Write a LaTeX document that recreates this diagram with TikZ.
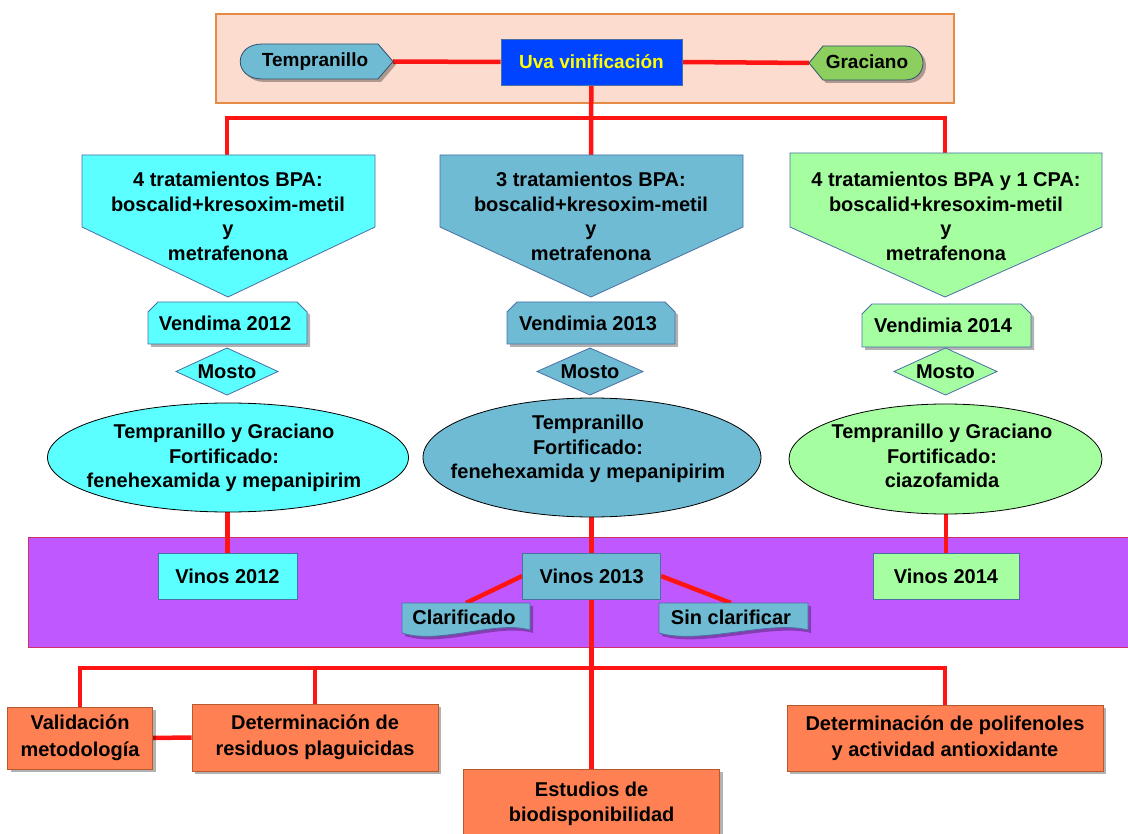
\documentclass[tikz,border=0pt]{standalone}
\usepackage{fontspec}
\setmainfont{Liberation Sans}
\usetikzlibrary{shadows}
\definecolor{peach}{HTML}{FBDCCE}
\definecolor{peachedge}{HTML}{E58B45}
\definecolor{purplefill}{HTML}{C058FF}
\definecolor{purpleedge}{HTML}{D0306A}
\definecolor{orangef}{HTML}{FF8052}
\definecolor{orangeedge}{HTML}{B65A2E}
\definecolor{cyanf}{HTML}{5CFFFF}
\definecolor{midblue}{HTML}{6FBBD3}
\definecolor{lgreen}{HTML}{A5FFA0}
\definecolor{gracgreen}{HTML}{8CCF5E}
\definecolor{uvablue}{HTML}{0044FF}
\definecolor{edgeblue}{HTML}{4A6FA5}
\definecolor{darkedge}{HTML}{30506E}
\definecolor{linered}{HTML}{FF1414}
\definecolor{uvatext}{HTML}{FFFF00}
\pgfdeclarelayer{bg}
\pgfdeclarelayer{lines}
\pgfsetlayers{bg,lines,main}
\begin{document}
\begin{tikzpicture}[x=1pt,y=-1pt,
  txt/.style={font=\fontsize{20}{24.5}\selectfont\bfseries, align=center, inner sep=0pt, text=black},
  toptxt/.style={txt, font=\fontsize{19}{23}\selectfont\bfseries},
  otxt/.style={txt, font=\fontsize{20}{26.5}\selectfont\bfseries},
  shp/.style={draw=edgeblue, line width=0.8pt},
  shad/.style={drop shadow={shadow xshift=3pt, shadow yshift=-3pt, fill=black, opacity=0.3}},
  conn/.style={draw=linered, line width=4.5pt},
  obox/.style={otxt, draw=orangeedge, line width=0.8pt, fill=orangef, shad},
  vbox/.style={txt, shp, minimum height=46pt}
]
\useasboundingbox (0,0) rectangle (1128,834);
\begin{pgfonlayer}{bg}
\fill[white] (0,0) rectangle (1128,834);
\path[fill=peach, draw=peachedge, line width=1.5pt] (216,14) rectangle (954,103);
\path[fill=purplefill, draw=purpleedge, line width=1pt] (28,537) rectangle (1135,647);
\end{pgfonlayer}

% top row
\path[shp, draw=darkedge, fill=midblue, shad] (262,44) -- (378,44) -- (393,61.5) -- (378,79) -- (262,79) .. controls (233,79) and (233,44) .. (262,44) -- cycle;
\node[toptxt] (tempr) at (315,61.5) {Tempranillo};
\coordinate (temprR) at (393,61.5);
\node[toptxt, text=uvatext, fill=uvablue, draw=edgeblue, line width=0.8pt, minimum width=181pt, minimum height=46pt] (uva) at (591.5,62) {Uva vinificación};
\path[shp, draw=darkedge, fill=gracgreen, shad] (809,63) -- (823,46) -- (905,46) .. controls (929,46) and (929,80) .. (905,80) -- (823,80) -- cycle;
\node[toptxt] (grac) at (867,62) {Graciano};
\coordinate (gracL) at (809,63);

% bus
\coordinate (busT1) at (227,118);
\coordinate (busTM) at (591,118);
\coordinate (busT3) at (945,118);

% pentagons
\path[shp, fill=cyanf] (82,155) -- (375,155) -- (375,227) -- (228,297) -- (82,227) -- cycle;
\node[txt] (pent1) at (228,216.5) {4 tratamientos BPA:\\boscalid+kresoxim-metil\\y\\metrafenona};
\coordinate (p1top) at (227,155);
\path[shp, fill=midblue] (440,155) -- (743,155) -- (743,227) -- (591,297) -- (440,227) -- cycle;
\node[txt] (pent2) at (591,216.5) {3 tratamientos BPA:\\boscalid+kresoxim-metil\\y\\metrafenona};
\coordinate (p2top) at (591,155);
\path[shp, fill=lgreen] (790,153) -- (1102,153) -- (1102,227) -- (945,297) -- (790,227) -- cycle;
\node[txt] (pent3) at (946,216.5) {4 tratamientos BPA y 1 CPA:\\boscalid+kresoxim-metil\\y\\metrafenona};
\coordinate (p3top) at (945,153);

% vendimia
\path[shp, fill=cyanf, shad] (158,302) -- (297,302) -- (307,312) -- (307,344) -- (148,344) -- (148,312) -- cycle;
\node[txt] (ven1) at (225,323) {Vendima 2012};
\path[shp, fill=midblue, shad] (517,302) -- (665,302) -- (675,312) -- (675,344) -- (507,344) -- (507,312) -- cycle;
\node[txt] (ven2) at (588,323) {Vendimia 2013};
\path[shp, fill=lgreen, shad] (872,304) -- (1021,304) -- (1031,314) -- (1031,347) -- (862,347) -- (862,314) -- cycle;
\node[txt] (ven3) at (943,325) {Vendimia 2014};

% mosto
\path[shp, fill=cyanf] (176,371.5) -- (227,348) -- (278,371.5) -- (227,395) -- cycle;
\node[txt] (mos1) at (227,372) {Mosto};
\path[shp, fill=midblue] (537,371.5) -- (590,348) -- (643,371.5) -- (590,395) -- cycle;
\node[txt] (mos2) at (590,372) {Mosto};
\path[shp, fill=lgreen] (894,371.5) -- (945.5,348) -- (997,371.5) -- (945.5,395) -- cycle;
\node[txt] (mos3) at (945.5,372) {Mosto};

% ellipses
\path[draw=black, line width=0.8pt, fill=cyanf] (228,457.5) ellipse [x radius=180.5pt, y radius=54.5pt];
\node[txt] (ell1) at (224,458) {Tempranillo y Graciano\\Fortificado:\\fenehexamida y mepanipirim};
\coordinate (e1bot) at (227.5,512);
\path[draw=black, line width=0.8pt, fill=midblue] (592,457.5) ellipse [x radius=169pt, y radius=59.5pt];
\node[txt] (ell2) at (588,449) {Tempranillo\\Fortificado:\\fenehexamida y mepanipirim};
\coordinate (e2bot) at (591.6,517);
\path[draw=black, line width=0.8pt, fill=lgreen] (945.5,459) ellipse [x radius=156.5pt, y radius=55pt];
\node[txt] (ell3) at (942,456) {Tempranillo y Graciano\\Fortificado:\\ciazofamida};
\coordinate (e3bot) at (946,514);

% vinos
\node[vbox, fill=cyanf, minimum width=139pt] (vin1) at (227.5,576) {Vinos 2012};
\node[vbox, fill=midblue, minimum width=138pt] (vin2) at (591.6,576) {Vinos 2013};
\node[vbox, fill=lgreen, minimum width=146pt] (vin3) at (946,576) {Vinos 2014};

% documents
\path[shp, fill=midblue, shad] (402,603) -- (530,603) -- (530,630) .. controls (495,620) and (440,645) .. (402,633) -- cycle;
\node[txt] (clar) at (464,617) {Clarificado};
\coordinate (clarT) at (466,603);
\path[shp, fill=midblue, shad] (659,603) -- (808,603) -- (808,630) .. controls (770,620) and (700,645) .. (659,633) -- cycle;
\node[txt] (sin) at (731,617) {Sin clarificar};
\coordinate (sinT) at (731,603);

% bottom bus
\coordinate (busB0) at (80,668);
\coordinate (busB1) at (315,668);
\coordinate (busBM) at (591.6,668);
\coordinate (busB3) at (945,668);

% orange boxes
\node[obox, minimum width=145pt, minimum height=62pt] (val) at (80,738) {Validación\\metodología};
\node[obox, minimum width=246pt, minimum height=67pt] (det) at (315,737.5) {Determinación de\\residuos plaguicidas};
\node[obox, font=\fontsize{20}{25}\selectfont\bfseries, minimum width=256pt, minimum height=68pt, anchor=north] (est) at (591.6,769) {Estudios de\\biodisponibilidad};
\node[obox, minimum width=316pt, minimum height=66pt] (pol) at (945,738) {Determinación de polifenoles\\y actividad antioxidante};

% connectors
\begin{pgfonlayer}{lines}
\draw[conn] (temprR) -- (uva.west);
\draw[conn] (uva.east) -- (gracL);
\draw[conn] (uva.south) -- (busTM) -- (p2top);
\draw[conn] (p1top) -- (busT1) -- (busT3) -- (p3top);
\draw[conn] (e1bot) -- (vin1.north);
\draw[conn] (e2bot) -- (vin2.north);
\draw[conn] (e3bot) -- (vin3.north);
\draw[conn] (vin2.west) -- (clarT);
\draw[conn] (vin2.east) -- (sinT);
\draw[conn] (vin2.south) -- (busBM) -- (est.north);
\draw[conn] (val.north) -- (busB0) -- (busB3) -- (pol.north);
\draw[conn] (busB1) -- (det.north);
\draw[conn] (val.east) -- (det.west);
\end{pgfonlayer}
\end{tikzpicture}
\end{document}
